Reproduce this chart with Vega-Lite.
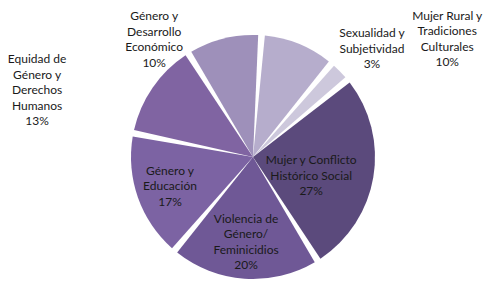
{
  "$schema": "https://vega.github.io/schema/vega-lite/v6.json",
  "width": 472,
  "height": 254,
  "autosize": {"type": "none"},
  "padding": {"left": 17, "top": 30, "right": 0, "bottom": 0},
  "background": "white",
  "config": {"view": {"stroke": null}, "text": {"lineBreak": "\n", "font": "Lato", "fontSize": 12, "lineHeight": 15.5, "color": "#1a1a1a", "align": "center", "baseline": "middle"}},
  "data": {
    "values": [
      {"k": 1, "categoria": "Mujer Rural y Tradiciones Culturales", "pct": 10, "label": "Mujer Rural y\nTradiciones\nCulturales\n10%"},
      {"k": 2, "categoria": "Sexualidad y Subjetividad", "pct": 3, "label": "Sexualidad y\nSubjetividad\n3%"},
      {"k": 3, "categoria": "Mujer y Conflicto Histórico Social", "pct": 27, "label": "Mujer y Conflicto\nHistórico Social\n27%"},
      {"k": 4, "categoria": "Violencia de Género/Feminicidios", "pct": 20, "label": "Violencia de\nGénero/\nFeminicidios\n20%"},
      {"k": 5, "categoria": "Género y Educación", "pct": 17, "label": "Género y\nEducación\n17%"},
      {"k": 6, "categoria": "Equidad de Género y Derechos Humanos", "pct": 13, "label": "Equidad de\nGénero y\nDerechos\nHumanos\n13%"},
      {"k": 7, "categoria": "Género y Desarrollo Económico", "pct": 10, "label": "Género y\nDesarrollo\nEconómico\n10%"}
    ]
  },
  "encoding": {
    "theta": {"field": "pct", "type": "quantitative", "stack": true, "scale": {"range": [0.07, 6.3532]}},
    "order": {"field": "k", "type": "quantitative", "sort": "ascending"}
  },
  "layer": [
    {
      "mark": {"type": "arc", "outerRadius": 122, "padAngle": 0.055},
      "encoding": {
        "color": {
          "field": "categoria",
          "type": "nominal",
          "legend": null,
          "scale": {
            "domain": ["Mujer Rural y Tradiciones Culturales", "Sexualidad y Subjetividad", "Mujer y Conflicto Histórico Social", "Violencia de Género/Feminicidios", "Género y Educación", "Equidad de Género y Derechos Humanos", "Género y Desarrollo Económico"],
            "range": ["#b6adcc", "#cdc8dc", "#5b4a7c", "#6f5896", "#7c63a3", "#8064a2", "#9e90ba"]
          }
        }
      }
    },
    {
      "mark": {"type": "text", "radius": 150, "dx": 138, "dy": -2},
      "encoding": {"text": {"condition": {"test": "datum.k == 1", "field": "label"}, "value": ""}}
    },
    {
      "mark": {"type": "text", "radius": 160, "dx": 5, "dy": -11.5},
      "encoding": {"text": {"condition": {"test": "datum.k == 2", "field": "label"}, "value": ""}}
    },
    {
      "mark": {"type": "text", "radius": 61, "dx": -2, "dy": -6.5},
      "encoding": {"text": {"condition": {"test": "datum.k == 3", "field": "label"}, "value": ""}}
    },
    {
      "mark": {"type": "text", "radius": 85, "dx": -1, "dy": -23},
      "encoding": {"text": {"condition": {"test": "datum.k == 4", "field": "label"}, "value": ""}}
    },
    {
      "mark": {"type": "text", "radius": 88, "dx": 0, "dy": -15.5},
      "encoding": {"text": {"condition": {"test": "datum.k == 5", "field": "label"}, "value": ""}}
    },
    {
      "mark": {"type": "text", "radius": 170, "dx": -76, "dy": -1},
      "encoding": {"text": {"condition": {"test": "datum.k == 6", "field": "label"}, "value": ""}}
    },
    {
      "mark": {"type": "text", "radius": 140, "dx": -65, "dy": -5},
      "encoding": {"text": {"condition": {"test": "datum.k == 7", "field": "label"}, "value": ""}}
    }
  ]
}
